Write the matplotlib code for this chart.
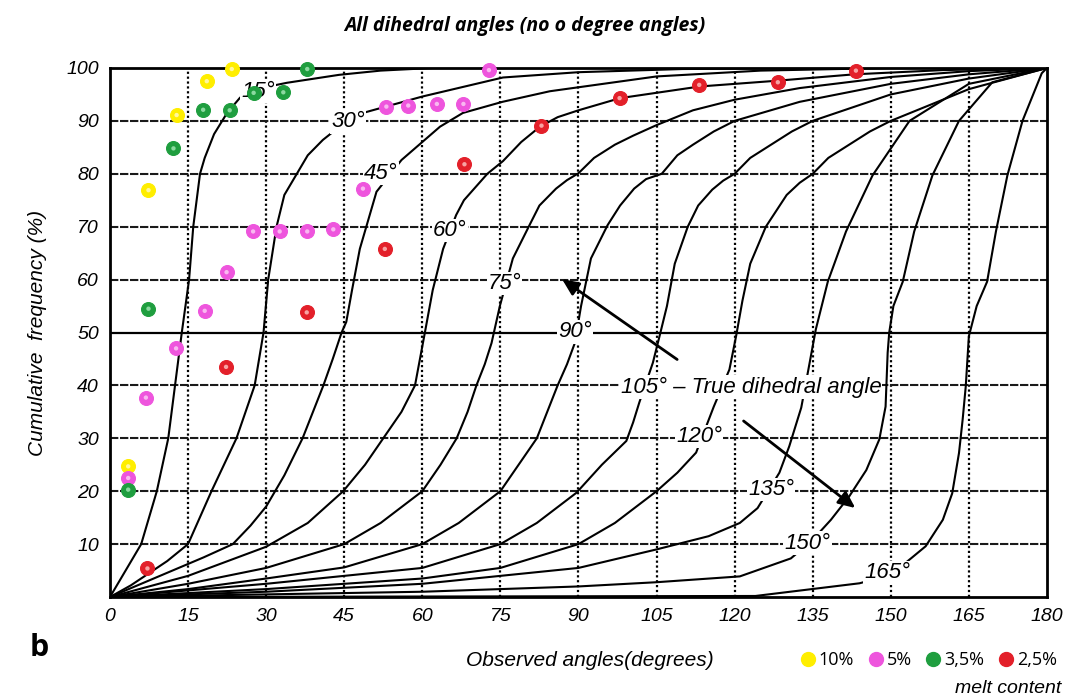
import matplotlib
matplotlib.use('Agg')
import matplotlib.pyplot as plt
from matplotlib.lines import Line2D

# Theoretical curves (true dihedral angle -> cumulative frequency of observed angles)
true_angles = [15, 30, 45, 60, 75, 90, 105, 120, 135, 150, 165]

c15_x = [0, 3, 6, 9, 11.2, 12.5, 13.8, 15.2, 16, 17.3, 18.2, 20, 22.5, 25, 27.5, 30.5, 34, 44, 52, 62, 180]
c15_y = [0, 5, 10, 20, 30, 40, 50, 60, 70, 80, 83, 87.5, 91.5, 94.4, 95.6, 96.5, 97.2, 98.7, 99.5, 100, 100]
c30_x = [0, 4, 11, 15, 19.5, 24.3, 27.8, 29.5, 30.4, 32, 33.5, 35.9, 38, 40.9, 45, 48.6, 60, 75.5, 90, 110, 140, 180]
c30_y = [0, 2.2, 6.8, 10, 20, 30, 40, 50, 60, 70, 76, 80, 83.5, 86.4, 89.6, 91.5, 94.6, 98.2, 99.2, 99.8, 100, 100]
c45_x = [0, 12, 18, 23.6, 27, 30, 33.5, 37, 41, 42.8, 44.5, 45.4, 46.5, 48, 51.2, 56, 63.4, 67.8, 75.4, 84.5, 105, 125, 150, 180]
c45_y = [0, 5, 7.5, 10, 13.5, 17.1, 23, 30, 40, 45, 50, 52, 58, 65.8, 76.6, 82.6, 88.9, 91.5, 93.6, 95.6, 98.4, 99.5, 100, 100]
c60_x = [0, 15, 30, 38, 44.8, 49, 52.5, 56, 58.6, 60.5, 62, 64, 66.5, 68, 72.5, 75.5, 79, 82.6, 86, 90, 98, 113.3, 128.3, 143, 160, 180]
c60_y = [0, 4, 9.5, 14, 20, 25, 30, 35, 40, 50, 58, 65.8, 72.2, 75, 80, 82.4, 86, 88.9, 90.7, 92, 94.3, 96.5, 97.6, 98.8, 99.6, 100]
c75_x = [0, 15, 30, 45, 52, 60, 63.5, 66.6, 68.7, 70.4, 72, 73.3, 74.9, 77.4, 80.6, 82.5, 85.7, 87.8, 90, 93, 97, 100.5, 105, 112, 120, 132.5, 150, 165, 180]
c75_y = [0, 2.5, 5.5, 10, 14, 20, 25, 30, 35, 40, 44, 48, 55, 64, 70.3, 74, 77.2, 78.8, 80.1, 83, 85.5, 87.2, 89.2, 92, 94, 96.2, 98.3, 99.4, 100]
c90_x = [0, 15, 30, 45, 60, 67, 75, 78.5, 82, 84, 86, 87.8, 89.3, 90.5, 92.4, 95.6, 98, 100.7, 103, 106, 109, 112, 116, 120, 132.5, 150, 165, 180]
c90_y = [0, 1.5, 3.5, 5.6, 10, 14, 20, 25, 30, 35, 40, 44, 48, 55, 64, 70.3, 74, 77.2, 79, 80, 83.5, 85.5, 88, 90, 93.6, 97, 98.8, 100]
c105_x = [0, 30, 60, 75, 82, 89.6, 94.5, 99.2, 100.5, 101.7, 104.3, 105.6, 107, 108.5, 111, 113, 115.7, 117.8, 120, 123, 127, 131, 135, 150, 165, 180]
c105_y = [0, 2.5, 5.5, 10, 14, 19.7, 25, 29.5, 33, 36.8, 44.3, 49.4, 55, 63, 70, 74, 77, 78.7, 80, 83, 85.5, 88, 90, 95, 98, 100]
c120_x = [0, 30, 60, 75, 90, 97, 105, 109, 112.6, 116, 119, 120.3, 121.5, 123, 126, 128, 130, 132.5, 135, 138, 142, 146, 150, 165, 180]
c120_y = [0, 1.5, 3.5, 5.5, 10, 14, 20, 23.5, 27.3, 36, 43, 49.4, 56, 63, 70, 73, 76, 78.3, 80, 83, 85.5, 88, 90, 96, 100]
c135_x = [0, 30, 60, 90, 105, 115, 121, 124.4, 128.6, 130.5, 132.8, 134, 135.6, 137.9, 141.4, 146.5, 153.6, 165, 180]
c135_y = [0, 1, 2.5, 5.5, 9, 11.5, 14, 16.8, 23.5, 28.5, 35.8, 42.1, 50.6, 59.6, 69.1, 79.7, 90, 97, 100]
c150_x = [0, 60, 90, 105, 121, 130.8, 134.7, 138.5, 142, 145.3, 147.8, 149, 149.4, 149.7, 150.5, 152.3, 154.5, 158, 163.1, 169.5, 180]
c150_y = [0, 1, 2, 2.8, 3.9, 7.3, 10.5, 14.6, 19, 24, 29.8, 36, 46.2, 50, 55, 59.6, 69.1, 79.7, 90, 97.3, 100]
c165_x = [0, 124, 144, 150, 154, 156.7, 160, 161.8, 163.1, 163.8, 164.4, 165, 166.5, 168.5, 170.2, 172.4, 175.3, 179, 180]
c165_y = [0, 0.2, 2.6, 4.2, 7.4, 9.6, 14.6, 19.6, 27.2, 33.5, 39.8, 49.3, 55, 59.6, 69.1, 79.7, 90, 99, 100]

curves_x = [c15_x, c30_x, c45_x, c60_x, c75_x, c90_x, c105_x, c120_x, c135_x, c150_x, c165_x]
curves_y = [c15_y, c30_y, c45_y, c60_y, c75_y, c90_y, c105_y, c120_y, c135_y, c150_y, c165_y]

# label position of each curve (on the curve)
label_x = [28.4, 45.7, 52.0, 65.3, 75.8, 89.3, 102.7, 113.2, 127.0, 134.0, 149.3]
label_y = [95.6, 89.8, 80.0, 69.3, 59.2, 50.1, 39.7, 30.4, 20.3, 10.2, 4.7]

# measured data (melt content)
yellow_x = [3.5, 7.4, 12.8, 18.6, 23.4]
yellow_y = [24.7, 76.9, 91.1, 97.5, 99.8]
magenta_x = [3.5, 6.9, 12.7, 18.2, 22.4, 27.5, 32.6, 37.9, 42.9, 48.6, 53.1, 57.3, 62.8, 67.9, 72.8]
magenta_y = [22.5, 37.7, 47, 54.1, 61.4, 69.1, 69.1, 69.1, 69.5, 77.2, 92.7, 92.9, 93.2, 93.2, 99.6]
green_x = [3.5, 7.4, 12.2, 17.9, 23, 27.6, 33.3, 37.9]
green_y = [20.3, 54.5, 84.8, 92.1, 92, 95.3, 95.4, 99.8]
red_x = [7.2, 22.3, 37.8, 52.8, 68.1, 82.9, 97.9, 113.2, 128.3, 143.3]
red_y = [5.4, 43.5, 53.8, 65.8, 81.8, 89.1, 94.3, 96.8, 97.3, 99.5]

series = [
    ('10%', yellow_x, yellow_y, '#FFEE00', '#FFF7A0'),
    ('5%', magenta_x, magenta_y, '#EE55DD', '#F9B8F0'),
    ('3,5%', green_x, green_y, '#1F9E3F', '#8CD9A0'),
    ('2,5%', red_x, red_y, '#E3202A', '#F7A3A3'),
]

x_ticks = list(range(0, 181, 15))
y_ticks = list(range(10, 101, 10))

narrow = ['Liberation Sans Narrow', 'Liberation Sans', 'DejaVu Sans']

fig = plt.figure(figsize=(10.77, 7.0), dpi=100)
ax = fig.add_axes([0.1021, 0.1471, 0.8700, 0.7558])
ax.set_xlim(0, 180)
ax.set_ylim(0, 100)

# grid
for xv in x_ticks[1:-1]:
    ax.axvline(xv, color='black', lw=1.6, ls=(0, (1, 1.2)), zorder=1)
for yv in y_ticks[:-1]:
    if yv == 50:
        ax.axhline(yv, color='black', lw=1.6, zorder=1)
    else:
        ax.axhline(yv, color='#1a1a1a', lw=1.5, ls=(0, (4, 0.8)), zorder=1)

# theoretical curves
for cx, cy in zip(curves_x, curves_y):
    ax.plot(cx, cy, color='black', lw=1.5, zorder=2)

for ang, lx, ly in zip(true_angles, label_x, label_y):
    if ang == 105:
        continue
    ax.text(lx, ly, f'{ang}°', ha='center', va='center', fontsize=16, style='italic',
            family=narrow, zorder=3,
            bbox=dict(boxstyle='square,pad=0.05', fc='white', ec='none'))
ax.text(label_x[6] - 4.6, label_y[6], '105° – True dihedral angle', ha='left', va='center',
        fontsize=16, style='italic', family=narrow, zorder=3,
        bbox=dict(boxstyle='square,pad=0.05', fc='white', ec='none'))

# arrows
ax.annotate('', xy=(86.4, 60.4), xytext=(109.4, 44.6),
            arrowprops=dict(arrowstyle='-|>,head_length=1.0,head_width=0.45', color='black', lw=2),
            zorder=4)
ax.annotate('', xy=(143.6, 16.5), xytext=(121.3, 33.6),
            arrowprops=dict(arrowstyle='-|>,head_length=1.0,head_width=0.45', color='black', lw=2),
            zorder=4)

# measured points
for name, sx, sy, col, inner in series:
    ax.scatter(sx, sy, s=100, color=col, edgecolors=col, linewidths=0.8, zorder=5, clip_on=False)
    ax.scatter(sx, sy, s=10, color=inner, edgecolors='none', zorder=6, clip_on=False)

for side in ['left', 'right', 'top', 'bottom']:
    ax.spines[side].set_linewidth(2)
ax.set_xticks(x_ticks)
ax.set_yticks(y_ticks)
ax.set_xticklabels([str(v) for v in x_ticks], fontsize=14, style='italic', family=narrow)
ax.set_yticklabels([str(v) for v in y_ticks], fontsize=14, style='italic', family=narrow)
ax.tick_params(length=0, pad=8)
ax.set_ylabel('Cumulative  frequency (%)', fontsize=15, style='italic', family=narrow, labelpad=14)

fig.text(0.487, 0.963, 'All dihedral angles (no o degree angles)', ha='center', va='center',
         fontsize=14, style='italic', weight='bold', family=['Open Sans', 'DejaVu Sans'])
fig.text(0.036, 0.074, 'b', fontsize=22, weight='bold', family=['Open Sans', 'DejaVu Sans'],
         ha='center', va='center')
fig.text(0.548, 0.057, 'Observed angles(degrees)', fontsize=15, style='italic', family=narrow,
         ha='center', va='center')

handles = [Line2D([], [], ls='none', marker='o', markersize=10, color=col, markeredgecolor=col)
           for _, _, _, col, _ in series]
labels = [s[0] for s in series]
fig.legend(handles, labels, loc='center left', bbox_to_anchor=(0.725, 0.057), ncol=4,
           frameon=False, handletextpad=0.0, columnspacing=0.6, handlelength=1.2,
           prop={'family': ['Open Sans', 'DejaVu Sans'], 'size': 13})
fig.text(0.985, 0.017, 'melt content', fontsize=14, style='italic', family=narrow,
         ha='right', va='center')

fig.savefig('out.png', dpi=100)
